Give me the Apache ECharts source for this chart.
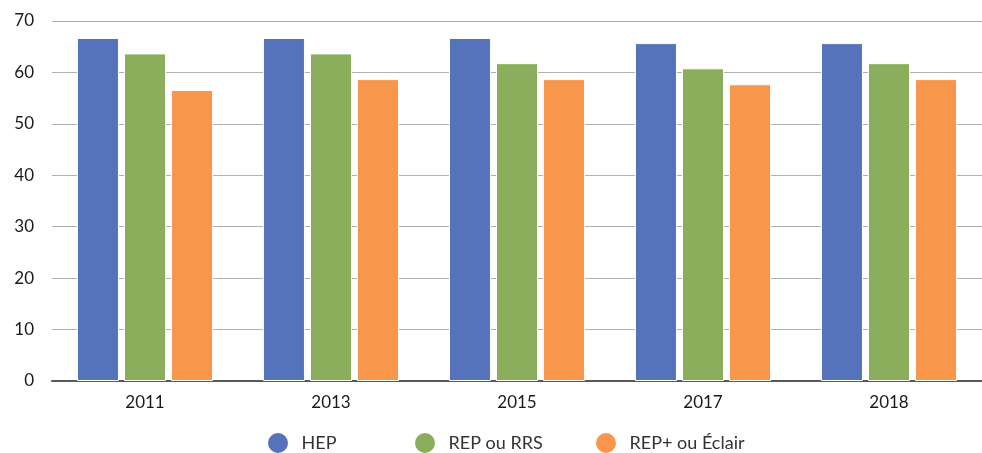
<!DOCTYPE html>
<html>
<head>
<meta charset="utf-8">
<script src="https://cdn.jsdelivr.net/npm/echarts@6/dist/echarts.min.js"></script>
<style>
  html, body { margin: 0; padding: 0; background: #fff; }
  #chart { width: 982px; height: 453px; }
</style>
</head>
<body>
<div id="chart"></div>
<script>
// données
const years = ['2011', '2013', '2015', '2017', '2018'];
const hep = [66.7, 66.7, 66.7, 65.7, 65.7];
const rep = [63.7, 63.7, 61.8, 60.8, 61.8];
const repPlus = [56.6, 58.7, 58.7, 57.7, 58.7];
const yTicks = [0, 10, 20, 30, 40, 50, 60, 70];
const names = ['HEP', 'REP ou RRS', 'REP+ ou Éclair'];

const font = 'Lato, "Noto Sans", sans-serif';
const chart = echarts.init(document.getElementById('chart'));

function bar(name, data, color) {
  return {
    name: name,
    type: 'bar',
    data: data,
    barWidth: 42,
    barGap: '12%',
    itemStyle: { color: color, borderColor: '#fff', borderWidth: 1 }
  };
}

// une légende par série pour placer chaque élément comme sur l'original
const legendLeft = [266, 413, 594];
const legends = names.map((n, i) => ({
  top: 431,
  left: legendLeft[i],
  padding: 0,
  itemWidth: 23,
  itemHeight: 22,
  icon: 'circle',
  selectedMode: false,
  textStyle: { fontSize: 18, color: '#333', fontFamily: font, padding: [0, 0, 0, 7] },
  data: [n]
}));

chart.setOption({
  animation: false,
  textStyle: { fontFamily: font },
  grid: { left: 52, right: 0, top: 21, bottom: 72 },
  legend: legends,
  xAxis: {
    type: 'category',
    data: years,
    axisTick: { show: false },
    axisLine: { lineStyle: { color: '#595959', width: 2 } },
    axisLabel: { fontSize: 17, color: '#1a1a1a', margin: 13 }
  },
  yAxis: {
    type: 'value',
    min: yTicks[0],
    max: yTicks[yTicks.length - 1],
    interval: 10,
    axisLine: { show: false },
    axisTick: { show: false },
    axisLabel: { fontSize: 17, color: '#1a1a1a', margin: 18 },
    splitLine: { lineStyle: { color: '#b0b0b0', width: 1 } }
  },
  series: [
    bar(names[0], hep, '#5473ba'),
    bar(names[1], rep, '#8aae5b'),
    bar(names[2], repPlus, '#f8964c')
  ]
});
</script>
</body>
</html>
